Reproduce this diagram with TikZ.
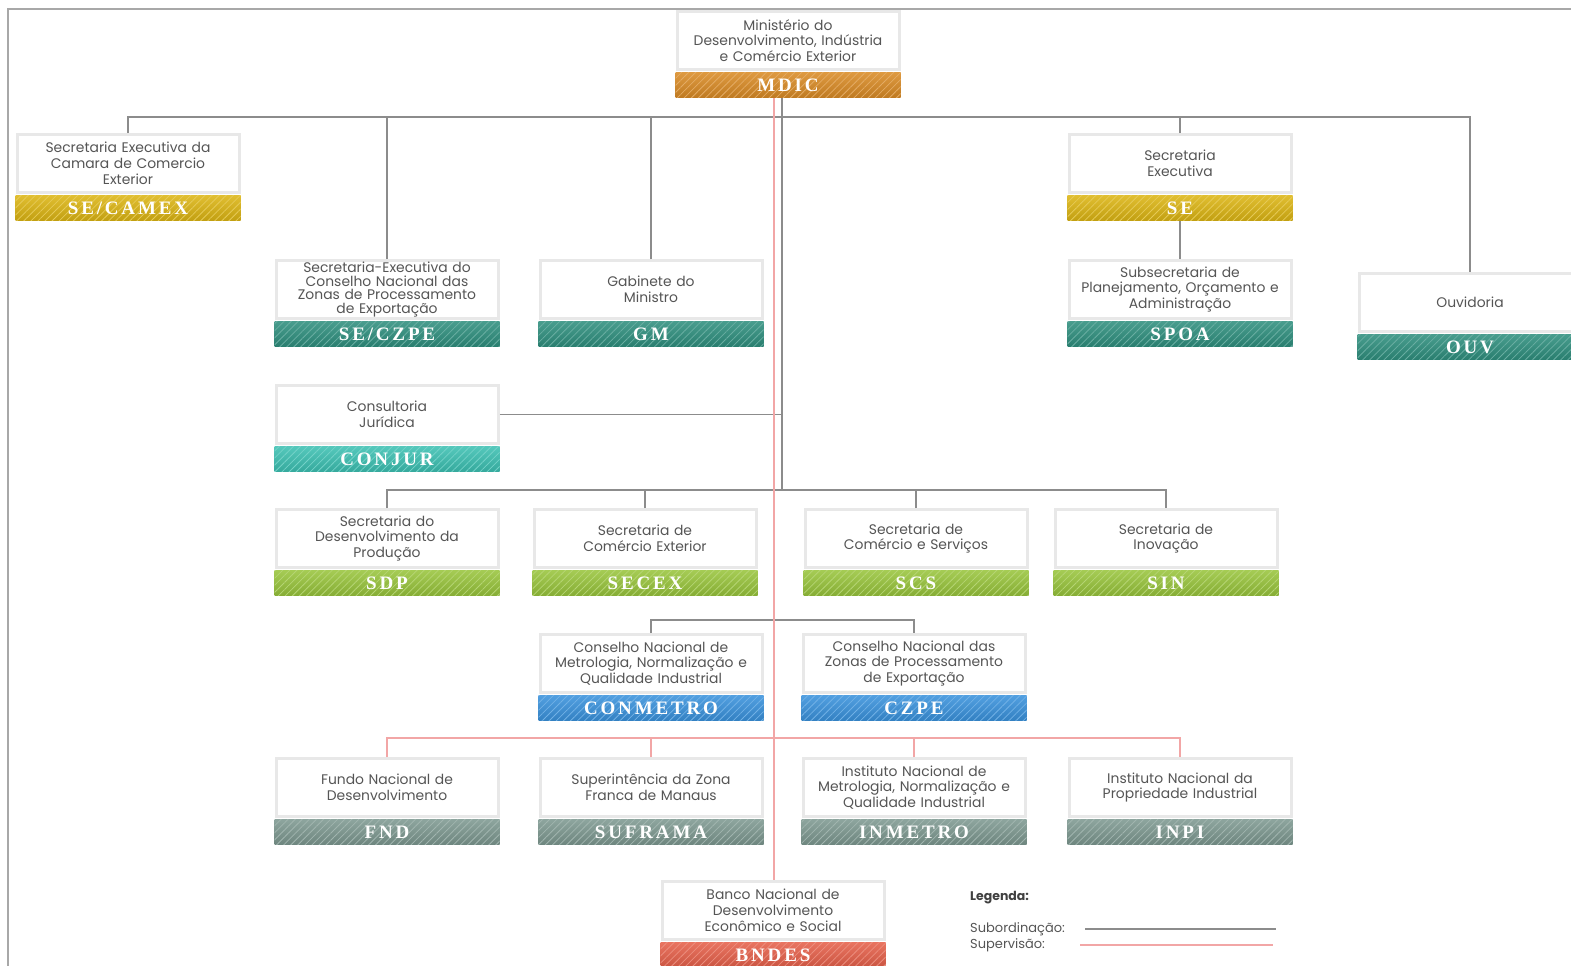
\documentclass[tikz,border=0pt]{standalone}
\usepackage{fontspec}
\setmainfont{Poppins}
\newfontfamily\siglafont[LetterSpace=15]{Liberation Serif}
\usetikzlibrary{patterns.meta}
\definecolor{claranja}{HTML}{D98B26}
\definecolor{camarelo}{HTML}{DCB514}
\definecolor{cpetroleo}{HTML}{2F8F7E}
\definecolor{cturquesa}{HTML}{3DC0B2}
\definecolor{cverde}{HTML}{98C43C}
\definecolor{cazul}{HTML}{3A92DC}
\definecolor{ccinza}{HTML}{7D9890}
\definecolor{cvermelho}{HTML}{E5604A}
\definecolor{ctexto}{HTML}{555555}
\definecolor{cborda}{HTML}{E8E8E8}
\definecolor{csub}{HTML}{8C8C8C}
\definecolor{csup}{HTML}{F2A6A6}
\definecolor{cmoldura}{HTML}{A8A8A8}

\begin{document}
\begin{tikzpicture}[x=1pt, y=-1pt,
  desc/.style={draw=cborda, line width=3pt, fill=white, minimum width=222pt,
    minimum height=58pt, text width=218pt, align=center, inner sep=0pt,
    text=ctexto, font=\fontsize{13.9}{15.8}\selectfont},
  faixa/.style={top color=#1!88!white, bottom color=#1!88!black, minimum width=225pt,
    minimum height=25pt, inner sep=0pt, text=white,
    font=\siglafont\bfseries\fontsize{19}{19}\selectfont,
    path picture={\fill[pattern={Lines[angle=45, distance=5pt, line width=0.8pt]},
      pattern color=#1!72!white] (path picture bounding box.south west)
      rectangle (path picture bounding box.north east);}},
  sub/.style={draw=csub, line width=1.6pt},
  sup/.style={draw=csup, line width=1.3pt},
  leg/.style={anchor=west, inner sep=0pt, text=ctexto, font=\fontsize{13}{14}\selectfont}]
\useasboundingbox (0,0) rectangle (1571,966);
\draw[cmoldura, line width=1.5pt] (8,966) -- (8,9) -- (1571,9);
%% ------------------------------------------------------------------ units
\foreach \nm/\x/\y/\c/\txt/\ab in {
  mdic/788/10/claranja/{Ministério do\\Desenvolvimento, Indústria\\e Comércio Exterior}/MDIC,
  secamex/128/133/camarelo/{Secretaria Executiva da\\Camara de Comercio\\Exterior}/{SE/CAMEX},
  seczpe/387/259/cpetroleo/{Secretaria-Executiva do\\[-2.2pt]Conselho Nacional das\\[-2.2pt]Zonas de Processamento\\[-2.2pt]de Exportação}/{SE/CZPE},
  gm/651/259/cpetroleo/{Gabinete do\\Ministro}/GM,
  se/1180/133/camarelo/{Secretaria\\Executiva}/SE,
  spoa/1180/259/cpetroleo/{Subsecretaria de\\Planejamento, Orçamento e\\Administração}/SPOA,
  ouv/1470/272/cpetroleo/{Ouvidoria}/OUV,
  conjur/387/384/cturquesa/{Consultoria\\Jurídica}/CONJUR,
  sdp/387/508/cverde/{Secretaria do\\Desenvolvimento da\\Produção}/SDP,
  secex/645/508/cverde/{Secretaria de\\Comércio Exterior}/SECEX,
  scs/916/508/cverde/{Secretaria de\\Comércio e Serviços}/SCS,
  sin/1166/508/cverde/{Secretaria de\\Inovação}/SIN,
  conmetro/651/633/cazul/{Conselho Nacional de\\Metrologia, Normalização e\\Qualidade Industrial}/CONMETRO,
  czpe/914/633/cazul/{Conselho Nacional das\\Zonas de Processamento\\de Exportação}/CZPE,
  fnd/387/757/ccinza/{Fundo Nacional de\\Desenvolvimento}/FND,
  suframa/651/757/ccinza/{Superintência da Zona\\Franca de Manaus}/SUFRAMA,
  inmetro/914/757/ccinza/{Instituto Nacional de\\Metrologia, Normalização e\\Qualidade Industrial}/INMETRO,
  inpi/1180/757/ccinza/{Instituto Nacional da\\Propriedade Industrial}/INPI,
  bndes/773/880/cvermelho/{Banco Nacional de\\Desenvolvimento\\Econômico e Social}/BNDES} {
  \node[desc] (\nm) at (\x,\y+30.5) {\txt};
  \node[faixa=\c, anchor=north] (\nm-b) at ([yshift=-1.5pt]\nm.south) {\ab};
}
%% ------------------------------------------------------------------ subordination
\coordinate (t1) at (782,117);
\coordinate (t3) at (782,490);
\draw[sub] (mdic-b.south -| t1) -- (t3);
\draw[sub] (secamex.north) |- (t1) -| (ouv.north);
\foreach \nm in {seczpe,gm,se} \draw[sub] (\nm.north) -- (\nm.north |- t1);
\draw[sub] (se-b.south) -- (spoa.north);
\draw[sub] (conjur.east) -- (conjur.east -| t1);
\draw[sub] (sdp.north) |- (t3) -| (sin.north);
\foreach \nm in {secex,scs} \draw[sub] (\nm.north) -- (\nm.north |- t3);
\draw[sub] (conmetro.north) -- ++(0,-13) -| (czpe.north);
%% ------------------------------------------------------------------ supervision
\coordinate (s1) at (774,738);
\draw[sup] (mdic-b.south -| s1) -- (bndes.north -| s1);
\draw[sup] (fnd.north) |- (s1) -| (inpi.north);
\foreach \nm in {suframa,inmetro} \draw[sup] (\nm.north) -- (\nm.north |- s1);
%% ------------------------------------------------------------------ legend
\node[leg, font=\fontsize{12.5}{14}\selectfont\bfseries, text=black!75] (legenda) at (970,898) {Legenda:};
\node[leg] (leg-sub) at (970,929) {Subordinação:};
\node[leg] (leg-sup) at (970,945) {Supervisão:};
\coordinate (la) at (1085,929);
\coordinate (lb) at (1276,929);
\coordinate (lc) at (1080,945);
\coordinate (ld) at (1273,945);
\draw[sub] (la) -- (lb);
\draw[sup] (lc) -- (ld);
\end{tikzpicture}
\end{document}
